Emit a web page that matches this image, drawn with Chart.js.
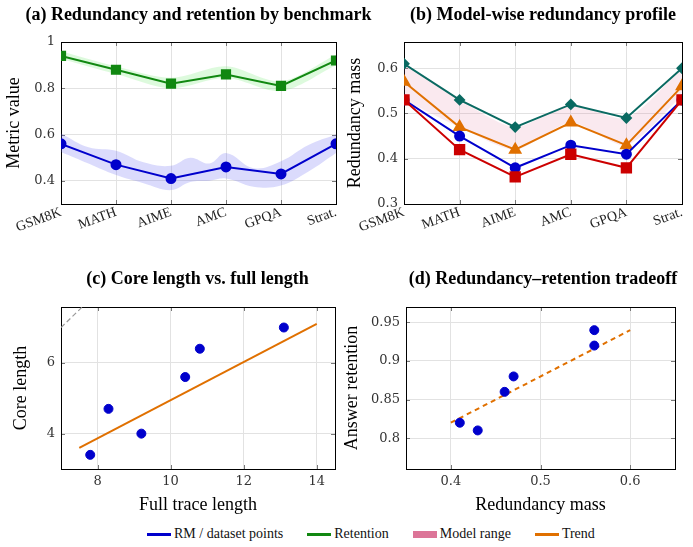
<!DOCTYPE html>
<html><head><meta charset="utf-8">
<script src="https://cdn.jsdelivr.net/npm/chart.js@4.4.0/dist/chart.umd.min.js"></script>
<style>
html,body{margin:0;padding:0;background:#fff;}
body{width:693px;height:547px;position:relative;overflow:hidden;font-family:'Liberation Serif',serif;}
canvas.c{position:absolute;}
.ptitle{position:absolute;width:400px;text-align:center;font-weight:bold;font-size:18px;line-height:20px;color:#000;white-space:nowrap;}
#legend{position:absolute;left:147px;top:524px;height:20px;display:flex;align-items:center;font-size:14px;color:#111;white-space:nowrap;}
#legend .it{display:flex;align-items:center;margin-right:24px;}
#legend .ln{width:24px;height:3px;margin-right:3px;}
#legend .bx{width:24px;height:7px;margin-right:3px;}
</style></head>
<body>
<canvas id="ca" class="c" width="346" height="262" style="left:0;top:0"></canvas>
<canvas id="cb" class="c" width="353" height="262" style="left:340px;top:0"></canvas>
<canvas id="cc" class="c" width="346" height="258" style="left:0;top:262px"></canvas>
<canvas id="cd" class="c" width="353" height="258" style="left:340px;top:262px"></canvas>
<div class="ptitle" id="ta" style="left:-1.5px;top:4px"></div>
<div class="ptitle" id="tb" style="left:343px;top:4px"></div>
<div class="ptitle" id="tc" style="left:-2.5px;top:268px"></div>
<div class="ptitle" id="td" style="left:343px;top:268px"></div>
<div id="legend"></div>
<script>
// ---------- data ----------
const panelTitles = ['(a) Redundancy and retention by benchmark','(b) Model-wise redundancy profile','(c) Core length vs. full length','(d) Redundancy\u2013retention tradeoff'];
const benchmarks = ['GSM8K','MATH','AIME','AMC','GPQA','Strat.'];
const benchIndex = [0,1,2,3,4,5];
// (a)
const rmValues = [0.56,0.47,0.41,0.46,0.43,0.56];
const retentionValues = [0.94,0.88,0.82,0.86,0.81,0.92];
const retentionBandUpper = [0.96,0.895,0.845,0.895,0.83,0.945];
const retentionBandLower = [0.928,0.862,0.80,0.845,0.788,0.90];
const rmBandX = [0,0.5,1,1.5,2,2.35,2.7,3,3.5,4,4.5,5];
const rmBandUpper = [0.605,0.545,0.53,0.48,0.465,0.50,0.475,0.52,0.455,0.485,0.555,0.60];
const rmBandLower = [0.525,0.475,0.425,0.39,0.36,0.395,0.40,0.41,0.375,0.38,0.44,0.52];
const ticksA = [0.4,0.6,0.8,1];
// (b)
const modelTeal = [0.61,0.53,0.47,0.52,0.49,0.60];
const modelOrange = [0.57,0.47,0.42,0.48,0.43,0.56];
const modelBlue = [0.53,0.45,0.38,0.43,0.41,0.53];
const modelRed = [0.53,0.42,0.36,0.41,0.38,0.53];
const modelRangeUpper = [0.61,0.53,0.47,0.52,0.49,0.60];
const modelRangeLower = [0.53,0.47,0.42,0.48,0.43,0.54];
const ticksB = [0.3,0.4,0.5,0.6];
// (c)
const fullLength = [7.8,8.3,9.2,10.4,10.8,13.1];
const coreLength = [3.4,4.7,4.0,5.6,6.4,7.0];
const coreTrendX = [7.5,14];
const coreTrendY = [3.6,7.1];
const diagX = [7,8];
const diagY = [7,8];
const ticksCx = [8,10,12,14];
const ticksCy = [4,6];
// (d)
const redundancyMass = [0.41,0.43,0.46,0.47,0.56,0.56];
const answerRetention = [0.82,0.81,0.86,0.88,0.92,0.94];
const tradeTrendX = [0.4,0.6];
const tradeTrendY = [0.82,0.94];
const ticksDx = [0.4,0.5,0.6];
const ticksDy = [0.8,0.85,0.9,0.95];

// ---------- style ----------
const FONT = "'Liberation Serif', serif";
const TICKFONT = "'DejaVu Serif', serif";
const C = {blue:'#0000cc', green:'#118811', teal:'#0a6a62', orange:'#e07000', red:'#cc0000',
  blueBand:'rgba(90,90,240,0.22)', greenBand:'rgba(120,235,120,0.25)', pinkBand:'rgba(220,110,150,0.15)', legendPink:'#dc7598'};

['ta','tb','tc','td'].forEach((id,i)=>{ document.getElementById(id).textContent = panelTitles[i]; });

const xy = (xs, ys) => xs.map((x,i)=>({x:x, y:ys[i]}));
const fmt = v => String(Number(v.toFixed(4)));

const framePlugin = {
  id:'frame',
  beforeDatasetsDraw(chart){
    const {ctx, chartArea:{left,right,top,bottom}} = chart;
    const xs = chart.scales.x, ys = chart.scales.y;
    ctx.save();
    ctx.strokeStyle = '#777'; ctx.lineWidth = 1;
    ctx.beginPath();
    xs.ticks.forEach((t,i)=>{const p = Math.round(xs.getPixelForTick(i))+0.5; ctx.moveTo(p,bottom); ctx.lineTo(p,bottom-4); ctx.moveTo(p,top); ctx.lineTo(p,top+4);});
    ys.ticks.forEach((t,i)=>{const p = Math.round(ys.getPixelForTick(i))+0.5; ctx.moveTo(left,p); ctx.lineTo(left+4,p); ctx.moveTo(right,p); ctx.lineTo(right-4,p);});
    ctx.stroke();
    ctx.strokeStyle = '#000'; ctx.lineWidth = 1;
    ctx.strokeRect(Math.round(left)+0.5, Math.round(top)+0.5, Math.round(right-left), Math.round(bottom-top));
    ctx.restore();
  }
};

function axisY(ticksArr, min, max, width, titleText, titlePad){
  return {
    type:'linear', min:min, max:max,
    afterBuildTicks: s => { s.ticks = ticksArr.map(v=>({value:v})); },
    afterFit: s => { s.width = width; },
    grid:{color:'#e2e2e2', lineWidth:1, drawTicks:false},
    border:{display:false},
    ticks:{padding:6, color:'#333', font:{family:TICKFONT,size:13}, callback: v => fmt(v)},
    title:{display:true, text:titleText, color:'#000', font:{family:FONT,size:18}, padding:{top:titlePad,bottom:0}}
  };
}
function axisXcat(height){
  return {
    type:'linear', min:0, max:5,
    afterBuildTicks: s => { s.ticks = benchIndex.map(v=>({value:v})); },
    afterFit: s => { s.height = height; },
    grid:{color:'#e2e2e2', lineWidth:1, drawTicks:false},
    border:{display:false},
    ticks:{padding:0, color:'#222', autoSkip:false, minRotation:20, maxRotation:20, font:{family:FONT,size:14}, callback: v => benchmarks[v]}
  };
}
function axisX(ticksArr, min, max, height, titleText, titlePadBottom){
  return {
    type:'linear', min:min, max:max,
    afterBuildTicks: s => { s.ticks = ticksArr.map(v=>({value:v})); },
    afterFit: s => { s.height = height; },
    grid:{color:'#e2e2e2', lineWidth:1, drawTicks:false},
    border:{display:false},
    ticks:{padding:5, color:'#333', font:{family:TICKFONT,size:13}, callback: v => fmt(v)},
    title:{display:true, text:titleText, color:'#000', font:{family:FONT,size:18}, padding:{top:0,bottom:titlePadBottom}}
  };
}
function baseOptions(scales, padTop, padRight){
  return {
    responsive:false, animation:false, devicePixelRatio:1,
    layout:{padding:{left:0,right:padRight,top:padTop,bottom:0}},
    plugins:{legend:{display:false}, tooltip:{enabled:false}, title:{display:false}},
    scales:scales
  };
}

// ---------- (a) ----------
new Chart(document.getElementById('ca'), {
  type:'line',
  data:{datasets:[
    {data:xy(benchIndex, rmValues), borderColor:C.blue, backgroundColor:C.blue, borderWidth:2, pointStyle:'circle', pointRadius:4.5, tension:0, fill:false},
    {data:xy(benchIndex, retentionValues), borderColor:C.green, backgroundColor:C.green, borderWidth:2, pointStyle:'rect', pointRadius:5.8, tension:0, fill:false},
    {data:xy(rmBandX, rmBandUpper), borderWidth:0, pointRadius:0, tension:0.4, fill:'+1', backgroundColor:C.blueBand},
    {data:xy(rmBandX, rmBandLower), borderWidth:0, pointRadius:0, tension:0.4, fill:false},
    {data:xy(benchIndex, retentionBandUpper), borderWidth:0, pointRadius:0, tension:0.3, fill:'+1', backgroundColor:C.greenBand},
    {data:xy(benchIndex, retentionBandLower), borderWidth:0, pointRadius:0, tension:0.3, fill:false}
  ]},
  options: baseOptions({x:axisXcat(58), y:axisY(ticksA,0.3,1.0,61,'Metric value',3.2)}, 42, 10),
  plugins:[framePlugin]
});

// ---------- (b) ----------
new Chart(document.getElementById('cb'), {
  type:'line',
  data:{datasets:[
    {data:xy(benchIndex, modelRed), order:1, borderColor:C.red, backgroundColor:C.red, borderWidth:2, pointStyle:'rect', pointRadius:6.6, fill:false},
    {data:xy(benchIndex, modelBlue), order:2, borderColor:C.blue, backgroundColor:C.blue, borderWidth:2, pointStyle:'circle', pointRadius:4.5, fill:false},
    {data:xy(benchIndex, modelOrange), order:3, borderColor:C.orange, backgroundColor:C.orange, borderWidth:2, pointStyle:'triangle', pointRadius:6, fill:false},
    {data:xy(benchIndex, modelTeal), order:4, borderColor:C.teal, backgroundColor:C.teal, borderWidth:2, pointStyle:'rectRot', pointRadius:4.5, fill:false},
    {data:xy(benchIndex, modelRangeUpper), order:5, borderWidth:0, pointRadius:0, tension:0.25, fill:'+1', backgroundColor:C.pinkBand},
    {data:xy(benchIndex, modelRangeLower), order:6, borderWidth:0, pointRadius:0, tension:0.25, fill:false}
  ]},
  options: baseOptions({x:axisXcat(58), y:axisY(ticksB,0.3,0.658,64,'Redundancy mass',4.2)}, 42, 11),
  plugins:[framePlugin]
});

// ---------- (c) ----------
new Chart(document.getElementById('cc'), {
  type:'scatter',
  data:{datasets:[
    {data:xy(fullLength, coreLength), backgroundColor:C.blue, borderColor:C.blue, pointRadius:4.5, showLine:false},
    {data:xy(coreTrendX, coreTrendY), borderColor:C.orange, borderWidth:2, pointRadius:0, showLine:true},
    {data:xy(diagX, diagY), borderColor:'#999999', borderWidth:1.2, borderDash:[5,3], pointRadius:0, showLine:true, clip:0}
  ]},
  options: baseOptions({x:axisX(ticksCx,7,14.5,51,'Full trace length',4.2), y:axisY(ticksCy,3,7.58,61,'Core length',10.7)}, 45, 11),
  plugins:[framePlugin]
});

// ---------- (d) ----------
new Chart(document.getElementById('cd'), {
  type:'scatter',
  data:{datasets:[
    {data:xy(redundancyMass, answerRetention), backgroundColor:C.blue, borderColor:C.blue, pointRadius:4.5, showLine:false},
    {data:xy(tradeTrendX, tradeTrendY), borderColor:C.orange, borderWidth:2, borderDash:[5,4], pointRadius:0, showLine:true}
  ]},
  options: baseOptions({x:axisX(ticksDx,0.35,0.65,51,'Redundancy mass',4.2), y:axisY(ticksDy,0.76,0.97,66,'Answer retention',1.2)}, 45, 18),
  plugins:[framePlugin]
});

// ---------- legend ----------
const legendItems = [
  {label:'RM / dataset points', color:C.blue, kind:'ln'},
  {label:'Retention', color:C.green, kind:'ln'},
  {label:'Model range', color:C.legendPink, kind:'bx'},
  {label:'Trend', color:C.orange, kind:'ln'}
];
const lg = document.getElementById('legend');
legendItems.forEach(it=>{
  const d = document.createElement('div'); d.className='it';
  const s = document.createElement('span'); s.className=it.kind; s.style.background=it.color;
  const t = document.createElement('span'); t.textContent = it.label;
  d.appendChild(s); d.appendChild(t); lg.appendChild(d);
});
</script>
</body></html>
